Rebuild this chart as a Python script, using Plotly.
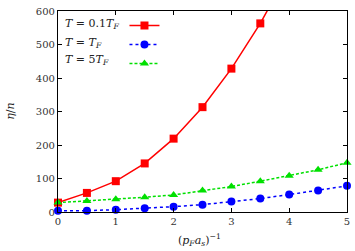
import plotly.graph_objects as go

x = [0, 0.5, 1, 1.5, 2, 2.5, 3, 3.5, 4, 4.5, 5]
eta_01 = [28, 57, 92, 145, 219, 313, 428, 563, 720, 900, 1100]
eta_1 = [4, 4, 7, 11, 16, 22, 31, 40, 52, 64, 78]
eta_5 = [28, 33, 38, 44, 51, 64, 76, 92, 108, 126, 147]
labels = ["<i>T</i> = 0.1<i>T<sub>F</sub></i>", "<i>T</i> = <i>T<sub>F</sub></i>", "<i>T</i> = 5<i>T<sub>F</sub></i>"]

FONT = "DejaVu Serif"
fig = go.Figure()
fig.add_trace(go.Scatter(x=x, y=eta_01, mode="lines+markers", name=" ", cliponaxis=False,
                         line=dict(color="#ff0000", width=1.5),
                         marker=dict(symbol="square", size=8, color="#ff0000")))
fig.add_trace(go.Scatter(x=x, y=eta_1, mode="lines+markers", name=" ", cliponaxis=False,
                         line=dict(color="#0000ff", width=1.5, dash="dot"),
                         marker=dict(symbol="circle", size=8, color="#0000ff")))
fig.add_trace(go.Scatter(x=x, y=eta_5, mode="lines+markers", name=" ", cliponaxis=False,
                         line=dict(color="#00e000", width=1.5, dash="3px,2px"),
                         marker=dict(symbol="triangle-up", size=8, color="#00e000")))

axis_common = dict(showgrid=False, zeroline=False, showline=True, linecolor="black", linewidth=1.2,
                   mirror="ticks", ticks="inside", ticklen=4, tickcolor="black",
                   ticklabeloverflow="allow",
                   tickfont=dict(family=FONT, size=10, color="#333"))
fig.update_xaxes(range=[0, 5], dtick=1, **axis_common)
fig.update_yaxes(range=[0, 600], dtick=100, **axis_common)

ys = [0.934, 0.843, 0.756]
annotations = [dict(xref="paper", yref="paper", x=0.018, y=yy, xanchor="left", yanchor="middle",
                    text=t, showarrow=False, font=dict(family=FONT, size=11, color="#222"))
               for t, yy in zip(labels, ys)]
annotations.append(dict(xref="paper", yref="paper", x=0.49, y=-0.14, xanchor="center", yanchor="middle",
                        text="(<i>p<sub>F</sub>a<sub>s</sub></i>)<sup>−1</sup>", showarrow=False,
                        font=dict(family=FONT, size=11, color="#222")))
annotations.append(dict(xref="paper", yref="paper", x=-0.165, y=0.5, xanchor="center", yanchor="middle",
                        text="<i>η</i>/<i>n</i>", textangle=-90, showarrow=False,
                        font=dict(family=FONT, size=11, color="#222")))

fig.update_layout(
    width=355, height=251,
    margin=dict(l=58, r=5, t=5, b=39),
    paper_bgcolor="white", plot_bgcolor="white",
    showlegend=True,
    legend=dict(x=0.23, y=1.0, xanchor="left", yanchor="top", bgcolor="rgba(0,0,0,0)",
                font=dict(family=FONT, size=12), itemwidth=30, tracegroupgap=0),
    annotations=annotations,
)
fig.write_html("out.html", config={"displayModeBar": False},
               post_script="document.body.style.margin='0';")
